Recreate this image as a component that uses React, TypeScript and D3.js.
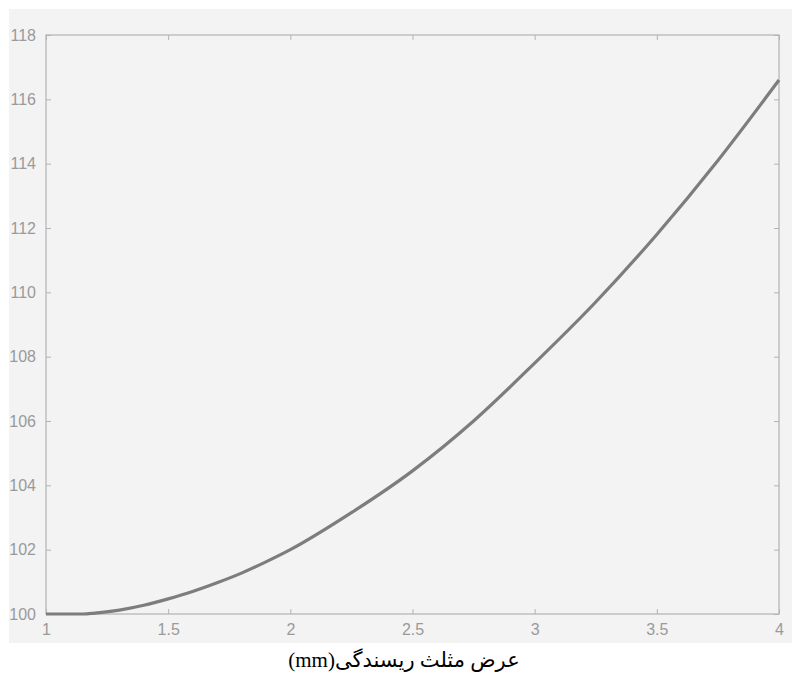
import { useEffect, useRef } from "react";
import * as d3 from "d3";

// values
const widthValues = [1, 1.1, 1.15, 1.2, 1.3, 1.4, 1.5, 1.6, 1.7, 1.8, 1.9, 2.0, 2.25, 2.5, 2.75, 3.0, 3.25, 3.5, 3.75, 4.0];
const outputValues = [100, 100, 100, 100.03, 100.12, 100.27, 100.47, 100.7, 100.97, 101.27, 101.62, 102.0, 103.15, 104.45, 106.0, 107.8, 109.7, 111.8, 114.1, 116.6];
const xTicks = [1, 1.5, 2, 2.5, 3, 3.5, 4];
const yTicks = [100, 102, 104, 106, 108, 110, 112, 114, 116, 118];
const xLabel = "عرض مثلث ریسندگی(mm)";

const App = () => {
    const container = useRef<SVGSVGElement>(null);

    useEffect(() => {
        const svgEl = container.current;
        if (!svgEl) return;
        svgEl.innerHTML = "";

        const margin = { top: 35, right: 13, bottom: 67, left: 46 },
            width = 792 - margin.left - margin.right,
            height = 681 - margin.top - margin.bottom;

        const root = d3.select(svgEl);

        // scanned page background
        root.append("rect")
            .attr("x", 9).attr("y", 9)
            .attr("width", 783).attr("height", 634)
            .style("fill", "#f3f3f3");

        const svg = root.append("g")
            .attr("transform", `translate(${margin.left},${margin.top})`);

        const x = d3.scaleLinear().domain([1, 4]).range([0, width]);
        const y = d3.scaleLinear().domain([100, 118]).range([height, 0]);

        const axisColor = "#b3b3b3";
        const labelColor = "#9a9a9a";

        const styleAxis = (g: any) => {
            g.select(".domain").remove();
            g.selectAll("line").style("stroke", axisColor);
            g.selectAll("text")
                .style("fill", labelColor)
                .style("font-family", "Liberation Sans, Arial, sans-serif")
                .style("font-size", "16px");
        };

        // bottom axis, ticks pointing inward
        svg.append("g")
            .attr("transform", `translate(0,${height})`)
            .call(d3.axisBottom(x).tickValues(xTicks).tickSize(-5).tickPadding(10).tickFormat(d3.format("")))
            .call(styleAxis);

        // top axis ticks only
        svg.append("g")
            .call(d3.axisTop(x).tickValues(xTicks).tickSize(-5).tickFormat(() => ""))
            .call(styleAxis);

        svg.append("g")
            .call(d3.axisLeft(y).tickValues(yTicks).tickSize(-5).tickPadding(10))
            .call(styleAxis);

        svg.append("g")
            .attr("transform", `translate(${width},0)`)
            .call(d3.axisRight(y).tickValues(yTicks).tickSize(-5).tickFormat(() => ""))
            .call(styleAxis);

        // box
        svg.append("rect")
            .attr("width", width).attr("height", height)
            .style("fill", "none")
            .style("stroke", axisColor)
            .style("stroke-width", 1.2);

        const line = d3.line<number>()
            .x((d, i) => x(widthValues[i]))
            .y((d) => y(d))
            .curve(d3.curveMonotoneX);

        svg.append("path")
            .datum(outputValues)
            .attr("d", line)
            .style("fill", "none")
            .style("stroke", "#7d7d7d")
            .style("stroke-width", 3.2);

        root.append("text")
            .attr("x", 404).attr("y", 667)
            .attr("text-anchor", "middle")
            .attr("direction", "rtl")
            .style("font-family", "Liberation Serif, Times New Roman, DejaVu Sans, serif")
            .style("font-size", "21px")
            .style("fill", "#000")
            .text(xLabel);
    }, []);

    return (
        <svg ref={container} width={792} height={681}
            style={{ position: "absolute", left: 0, top: 0, background: "#fff" }} />
    );
};

export default App;
